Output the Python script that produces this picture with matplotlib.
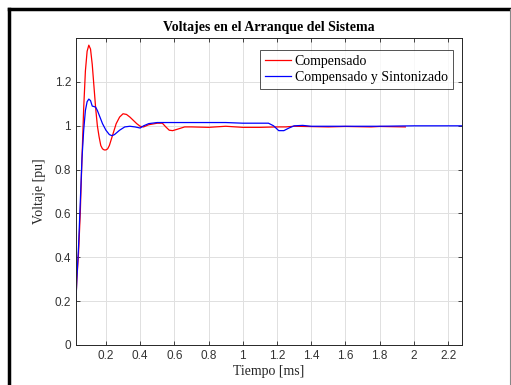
import matplotlib
matplotlib.use("Agg")
import matplotlib.pyplot as plt
from matplotlib.lines import Line2D

# Compensado (red)
t_comp = [0.025, 0.03, 0.04, 0.05, 0.06, 0.07, 0.08, 0.09, 0.10, 0.11, 0.12, 0.13,
          0.14, 0.15, 0.16, 0.17, 0.18, 0.19, 0.20, 0.21, 0.22, 0.24, 0.26, 0.28,
          0.30, 0.32, 0.34, 0.36, 0.38, 0.40, 0.42, 0.45, 0.50, 0.53, 0.55, 0.57,
          0.59, 0.62, 0.66, 0.70, 0.80, 0.90, 1.00, 1.10, 1.20, 1.25, 1.30, 1.50,
          1.60, 1.75, 1.80, 1.95]
v_comp = [0.21, 0.30, 0.42, 0.60, 0.85, 1.08, 1.25, 1.34, 1.368, 1.35, 1.28, 1.18,
          1.08, 1.00, 0.95, 0.91, 0.895, 0.89, 0.89, 0.895, 0.91, 0.96, 1.01, 1.04,
          1.055, 1.052, 1.04, 1.025, 1.01, 0.998, 0.995, 1.005, 1.012, 1.012, 0.995, 0.98,
          0.978, 0.985, 0.995, 0.995, 0.993, 0.998, 0.993, 0.993, 0.995, 0.995, 0.998, 0.995,
          0.997, 0.995, 0.997, 0.995]

# Compensado y Sintonizado (blue)
t_sint = [0.025, 0.03, 0.04, 0.05, 0.06, 0.07, 0.08, 0.09, 0.10, 0.11, 0.12, 0.13,
          0.14, 0.15, 0.16, 0.18, 0.20, 0.22, 0.235, 0.25, 0.28, 0.31, 0.34, 0.37,
          0.40, 0.42, 0.45, 0.50, 0.60, 0.70, 0.90, 1.00, 1.15, 1.18, 1.21, 1.24,
          1.27, 1.30, 1.35, 1.40, 1.60, 1.80, 2.00, 2.28]
v_sint = [0.20, 0.30, 0.45, 0.65, 0.85, 0.98, 1.07, 1.11, 1.122, 1.115, 1.09, 1.088,
          1.085, 1.07, 1.05, 1.01, 0.98, 0.96, 0.955, 0.96, 0.98, 0.995, 0.998, 0.995,
          0.99, 1.0, 1.01, 1.015, 1.015, 1.015, 1.015, 1.012, 1.012, 1.0, 0.978, 0.978,
          0.99, 1.0, 1.002, 0.998, 0.998, 0.998, 1.0, 1.0]

xticks = [0.2, 0.4, 0.6, 0.8, 1, 1.2, 1.4, 1.6, 1.8, 2, 2.2]
yticks = [0, 0.2, 0.4, 0.6, 0.8, 1, 1.2]

serif = "Liberation Serif"
sans = "Liberation Sans"

fig = plt.figure(figsize=(5.11, 3.85), dpi=100)
ax = fig.add_axes([0.1487, 0.1039, 0.755, 0.797])

ax.plot(t_comp, v_comp, color="red", lw=0.9, label="Compensado")
ax.plot(t_sint, v_sint, color="blue", lw=0.9, label="Compensado y Sintonizado")

ax.set_xlim(0.025, 2.28)
ax.set_ylim(0, 1.4)
ax.set_xticks(xticks)
ax.set_xticklabels([f"{x:g}" for x in xticks], fontfamily=sans, fontsize=8.5)
ax.set_yticks(yticks)
ax.set_yticklabels([f"{y:g}" for y in yticks], fontfamily=sans, fontsize=8.5)
ax.tick_params(direction="in", top=True, right=True, length=3, color="#262626",
               labelcolor="#333333", width=0.6)
ax.grid(True, color="#e0e0e0", lw=0.7)
ax.set_axisbelow(True)
for s in ax.spines.values():
    s.set_color("#262626")
    s.set_linewidth(0.7)

ax.set_title("Voltajes en el Arranque del Sistema", fontfamily=serif,
             fontweight="bold", fontsize=10, pad=5)
ax.set_xlabel("Tiempo [ms]", fontfamily=serif, fontsize=10, labelpad=2, color="#262626")
ax.set_ylabel("Voltaje [pu]", fontfamily=serif, fontsize=10, labelpad=6, color="#262626")

leg = ax.legend(loc="upper right", bbox_to_anchor=(0.976, 0.96), fancybox=False,
                prop={"family": serif, "size": 10}, borderpad=0.35, labelspacing=0.2,
                handlelength=1.9, handletextpad=0.25, borderaxespad=0)
leg.get_frame().set_edgecolor("#262626")
leg.get_frame().set_linewidth(0.7)

# outer frame
fig.add_artist(Line2D([8.5 / 511, 8.5 / 511], [0, 1 - 8.5 / 385], color="black", lw=2.5,
                      transform=fig.transFigure))
fig.add_artist(Line2D([8.5 / 511, 1], [1 - 8.5 / 385, 1 - 8.5 / 385], color="black", lw=2.5,
                      transform=fig.transFigure))
fig.add_artist(Line2D([509.5 / 511, 509.5 / 511], [0, 1 - 8.5 / 385], color="#888888", lw=0.8,
                      transform=fig.transFigure))

fig.savefig("out.png", dpi=100)
